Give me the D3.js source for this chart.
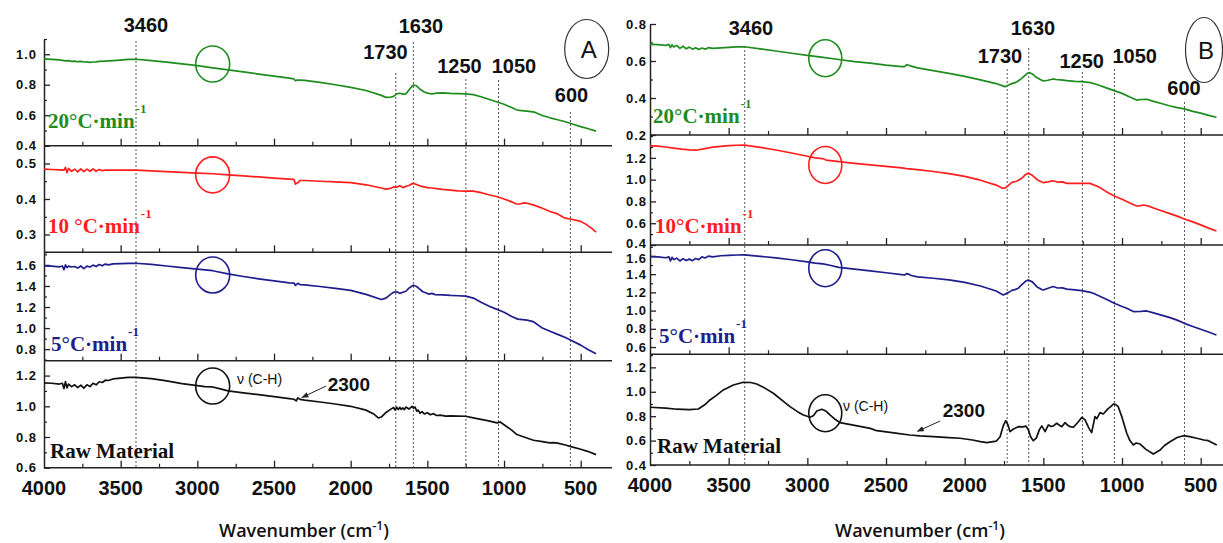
<!DOCTYPE html>
<html><head><meta charset="utf-8">
<script src="https://cdn.jsdelivr.net/npm/d3@7"></script>
<style>body{margin:0;background:#fff} svg{display:block}</style>
</head><body><svg id="c" width="1223" height="543"></svg>
<script>
// ---------------- DATA ----------------
const xTickValues = [4000,3500,3000,2500,2000,1500,1000,500];
const xMinorTickValues = [3750,3250,2750,2250,1750,1250,750];
const peakLabels = ["3460","1730","1630","1250","1050","600"];
const peakLinesA = [3400,1706,1591,1249,1036,567];
const peakLinesB = [3398,1730,1593,1252,1048,603];
const seriesNamesA = ["20°C·min","10 °C·min","5°C·min","Raw Material"];
const seriesNamesB = ["20°C·min","10°C·min","5°C·min","Raw Material"];
const yTicksA = [[0.4,0.6,0.8,1.0],[0.3,0.4,0.5],[0.8,1.0,1.2,1.4,1.6],[0.6,0.8,1.0,1.2]];
const yTicksB = [[0.2,0.4,0.6,0.8],[0.4,0.6,0.8,1.0,1.2],[0.6,0.8,1.0,1.2,1.4,1.6],[0.4,0.6,0.8,1.0,1.2]];

// Panel A
const aGreenWn = [4000,3950,3900,3880,3860,3840,3820,3800,3780,3760,3740,3720,3700,3680,3660,3640,3600,3550,3500,3450,3400,3300,3200,3100,3000,2900,2800,2700,2600,2500,2400,2370,2360,2350,2330,2300,2200,2100,2000,1900,1800,1770,1740,1720,1700,1680,1660,1640,1620,1600,1590,1570,1550,1520,1500,1470,1440,1400,1350,1300,1250,1200,1150,1100,1050,1000,950,920,900,850,800,750,700,650,600,550,500,450,400];
const aGreenAbs = [0.969,0.966,0.963,0.960,0.956,0.958,0.953,0.955,0.951,0.953,0.949,0.950,0.947,0.949,0.950,0.953,0.955,0.958,0.962,0.966,0.967,0.958,0.948,0.937,0.925,0.911,0.898,0.884,0.870,0.857,0.843,0.838,0.826,0.830,0.830,0.828,0.815,0.800,0.783,0.762,0.730,0.717,0.718,0.724,0.740,0.744,0.738,0.740,0.765,0.790,0.798,0.793,0.772,0.752,0.745,0.739,0.745,0.747,0.743,0.742,0.740,0.735,0.721,0.705,0.688,0.672,0.650,0.636,0.632,0.627,0.620,0.598,0.583,0.570,0.557,0.541,0.525,0.511,0.496];

const aRedWn = [4000,3950,3900,3870,3860,3850,3840,3820,3800,3780,3760,3740,3720,3700,3680,3660,3640,3620,3600,3500,3400,3300,3200,3100,3000,2900,2800,2700,2600,2500,2400,2370,2360,2345,2330,2300,2200,2100,2000,1900,1800,1770,1740,1720,1700,1680,1660,1640,1620,1600,1590,1570,1550,1530,1500,1470,1440,1400,1350,1300,1250,1200,1150,1100,1050,1000,950,920,900,870,850,800,750,700,650,610,600,560,500,470,430,400];
const aRedAbs = [0.484,0.483,0.482,0.481,0.489,0.474,0.486,0.478,0.484,0.476,0.485,0.477,0.484,0.478,0.485,0.478,0.483,0.480,0.481,0.481,0.481,0.479,0.477,0.475,0.473,0.471,0.468,0.465,0.462,0.459,0.456,0.455,0.442,0.446,0.452,0.452,0.450,0.448,0.446,0.440,0.431,0.428,0.430,0.434,0.433,0.437,0.432,0.436,0.438,0.443,0.444,0.441,0.437,0.435,0.432,0.431,0.429,0.427,0.425,0.423,0.422,0.422,0.418,0.412,0.407,0.400,0.392,0.386,0.386,0.389,0.388,0.382,0.374,0.365,0.358,0.348,0.346,0.343,0.337,0.330,0.318,0.307];

const aBlueWn = [4000,3950,3900,3880,3870,3860,3850,3840,3820,3800,3780,3760,3740,3720,3700,3680,3660,3640,3620,3600,3580,3550,3500,3450,3400,3300,3200,3100,3000,2900,2800,2700,2600,2500,2400,2370,2360,2345,2330,2300,2200,2100,2000,1900,1800,1770,1740,1720,1700,1680,1660,1640,1620,1600,1590,1570,1550,1530,1510,1490,1470,1450,1400,1350,1300,1250,1200,1150,1100,1050,1000,950,910,880,850,810,750,700,650,600,570,500,450,400];
const aBlueAbs = [1.590,1.588,1.582,1.590,1.555,1.600,1.575,1.588,1.580,1.585,1.570,1.590,1.565,1.588,1.580,1.598,1.585,1.604,1.592,1.608,1.600,1.610,1.612,1.615,1.616,1.605,1.590,1.575,1.560,1.545,1.515,1.490,1.468,1.448,1.430,1.428,1.405,1.425,1.413,1.410,1.395,1.378,1.358,1.320,1.271,1.285,1.320,1.340,1.345,1.330,1.340,1.350,1.380,1.400,1.407,1.395,1.370,1.345,1.335,1.322,1.330,1.318,1.315,1.310,1.307,1.303,1.285,1.245,1.210,1.180,1.150,1.110,1.085,1.080,1.075,1.062,1.000,0.970,0.940,0.910,0.890,0.838,0.795,0.755];

const aBlackWn = [4000,3950,3900,3880,3870,3860,3850,3840,3820,3800,3780,3760,3740,3720,3700,3680,3660,3640,3620,3600,3580,3550,3500,3450,3400,3300,3200,3100,3000,2950,2900,2850,2800,2700,2600,2500,2400,2370,2355,2345,2330,2300,2200,2100,2000,1900,1850,1820,1800,1770,1740,1720,1710,1700,1690,1680,1670,1660,1650,1640,1620,1600,1590,1580,1570,1560,1548,1535,1520,1500,1480,1460,1440,1417,1380,1350,1300,1250,1200,1150,1100,1045,1025,1000,950,916,870,808,750,700,677,650,600,569,500,450,400];
const aBlackAbs = [1.152,1.150,1.145,1.150,1.115,1.160,1.120,1.145,1.128,1.140,1.122,1.138,1.118,1.140,1.128,1.150,1.140,1.160,1.155,1.170,1.168,1.178,1.184,1.188,1.189,1.180,1.165,1.148,1.135,1.128,1.126,1.113,1.100,1.088,1.076,1.063,1.050,1.046,1.035,1.055,1.045,1.040,1.028,1.015,1.000,0.975,0.950,0.924,0.930,0.960,0.980,0.992,0.975,0.995,0.978,0.993,0.980,0.990,0.978,0.995,0.982,1.000,0.988,0.995,0.970,0.975,0.955,0.965,0.950,0.958,0.945,0.952,0.940,0.942,0.936,0.938,0.936,0.935,0.925,0.915,0.905,0.892,0.898,0.880,0.845,0.816,0.800,0.779,0.770,0.762,0.763,0.760,0.748,0.739,0.720,0.705,0.685];

// Panel B
const bGreenWn = [4000,3950,3900,3880,3870,3860,3850,3830,3810,3790,3770,3750,3730,3710,3690,3670,3650,3630,3600,3550,3500,3450,3400,3300,3200,3100,3000,2900,2800,2700,2600,2500,2400,2380,2370,2355,2340,2300,2200,2100,2000,1900,1800,1750,1744,1720,1700,1680,1660,1640,1620,1600,1590,1570,1550,1520,1500,1470,1440,1420,1390,1350,1300,1257,1200,1150,1100,1050,1000,950,907,880,843,800,750,700,650,604,550,500,450,400];
const bGreenAbs = [0.690,0.688,0.684,0.690,0.672,0.688,0.676,0.684,0.668,0.680,0.666,0.675,0.664,0.672,0.662,0.670,0.664,0.672,0.668,0.671,0.674,0.676,0.677,0.666,0.654,0.642,0.630,0.620,0.608,0.597,0.588,0.578,0.570,0.570,0.580,0.577,0.572,0.563,0.548,0.533,0.517,0.498,0.478,0.463,0.461,0.470,0.478,0.483,0.492,0.505,0.520,0.535,0.537,0.530,0.515,0.500,0.492,0.496,0.503,0.500,0.498,0.494,0.490,0.488,0.483,0.470,0.455,0.440,0.425,0.405,0.389,0.392,0.393,0.382,0.370,0.358,0.348,0.341,0.328,0.318,0.306,0.296];

const bRedWn = [4000,3950,3900,3850,3800,3750,3700,3650,3600,3550,3500,3450,3400,3300,3200,3100,3000,2950,2920,2900,2880,2800,2700,2600,2500,2400,2370,2300,2200,2100,2000,1900,1800,1760,1740,1720,1700,1670,1640,1610,1596,1570,1540,1510,1500,1470,1440,1410,1380,1350,1300,1250,1204,1150,1100,1049,1000,950,907,880,864,830,800,750,700,650,604,550,500,450,400];
const bRedAbs = [1.311,1.308,1.300,1.290,1.280,1.273,1.272,1.285,1.298,1.306,1.312,1.316,1.317,1.297,1.272,1.245,1.215,1.200,1.195,1.192,1.180,1.165,1.150,1.135,1.122,1.108,1.102,1.092,1.075,1.055,1.030,0.995,0.950,0.922,0.925,0.950,0.975,0.985,1.010,1.050,1.058,1.040,1.000,0.978,0.972,0.980,0.990,0.978,0.980,0.966,0.966,0.966,0.966,0.935,0.890,0.850,0.820,0.785,0.758,0.762,0.767,0.757,0.740,0.715,0.690,0.665,0.639,0.612,0.585,0.555,0.528];

const bBlueWn = [4000,3950,3900,3880,3870,3860,3850,3830,3810,3790,3770,3750,3730,3710,3690,3670,3650,3630,3600,3550,3500,3450,3400,3300,3200,3100,3000,2950,2900,2850,2800,2700,2600,2500,2400,2380,2370,2355,2340,2300,2200,2100,2000,1900,1800,1755,1720,1700,1680,1660,1640,1610,1596,1570,1540,1510,1500,1470,1437,1410,1380,1350,1300,1257,1200,1183,1100,1049,1000,970,928,880,843,800,750,700,650,604,550,500,450,400];
const bBlueAbs = [1.593,1.590,1.580,1.590,1.545,1.585,1.560,1.575,1.545,1.570,1.550,1.565,1.548,1.572,1.560,1.590,1.578,1.598,1.590,1.602,1.607,1.610,1.611,1.596,1.578,1.558,1.535,1.522,1.512,1.495,1.475,1.455,1.435,1.415,1.395,1.392,1.405,1.400,1.385,1.370,1.355,1.338,1.310,1.270,1.215,1.171,1.200,1.222,1.230,1.245,1.280,1.325,1.336,1.315,1.260,1.232,1.226,1.245,1.264,1.248,1.250,1.235,1.228,1.220,1.200,1.190,1.125,1.080,1.045,1.025,0.989,0.992,0.996,0.975,0.950,0.925,0.895,0.860,0.825,0.795,0.765,0.732];

const bBlackWn = [4000,3900,3830,3750,3693,3650,3619,3580,3534,3470,3407,3360,3322,3270,3216,3160,3110,3060,3025,2983,2960,2940,2908,2880,2856,2820,2792,2700,2600,2559,2450,2350,2284,2200,2100,2030,1950,1900,1860,1800,1775,1755,1739,1725,1712,1690,1659,1630,1610,1596,1580,1564,1545,1525,1510,1489,1468,1450,1436,1415,1400,1383,1362,1345,1330,1309,1280,1255,1235,1210,1193,1172,1160,1140,1119,1090,1070,1055,1040,1024,1000,970,950,928,910,885,850,801,760,730,695,650,610,570,525,480,451,398];
const bBlackAbs = [0.873,0.866,0.857,0.854,0.859,0.895,0.933,0.968,1.015,1.055,1.078,1.076,1.064,1.030,0.988,0.930,0.878,0.835,0.810,0.791,0.805,0.843,0.857,0.840,0.810,0.770,0.747,0.725,0.700,0.681,0.663,0.646,0.638,0.632,0.625,0.619,0.605,0.592,0.583,0.595,0.632,0.720,0.763,0.730,0.673,0.695,0.714,0.712,0.718,0.690,0.630,0.599,0.620,0.690,0.720,0.673,0.728,0.715,0.720,0.742,0.728,0.714,0.747,0.725,0.714,0.709,0.750,0.791,0.769,0.700,0.665,0.796,0.780,0.829,0.818,0.860,0.880,0.900,0.895,0.878,0.790,0.660,0.600,0.564,0.580,0.572,0.530,0.490,0.520,0.560,0.591,0.625,0.640,0.632,0.619,0.605,0.599,0.564];

// ---------------- LAYOUT ----------------
const colors = ["#1f8c1f","#ff1e1e","#1e1e8c","#111111"];
const panels = [
  { letter:"A", x4000:44, x500:580.7, xRight:612, yPad:7, tickBase:495, titleX:304,
    series:[[aGreenWn,aGreenAbs],[aRedWn,aRedAbs],[aBlueWn,aBlueAbs],[aBlackWn,aBlackAbs]],
    names:seriesNamesA, yTicks:yTicksA, peaks:peakLinesA,
    subs:[{top:39,bottom:145.7,domain:[0.4,1.1],minor:0.1},
          {top:145.7,bottom:252.3,domain:[0.25,0.55],minor:0.05},
          {top:252.3,bottom:360.7,domain:[0.69,1.72],minor:0.1},
          {top:360.7,bottom:467.7,domain:[0.6,1.297],minor:0.1}],
    nameAt:[[48,127.7],[48,233.3],[51,350.7],[50,457.7]],
    circleWn:2900, circleVals:[0.936,0.468,1.505,1.132], rx:17, ry:18,
    labelPos:[[146,32],[385.5,59.3],[421,33.3],[459.5,72.7],[514,72.7],[571.5,101.7]],
    lineTop:[41,73,42,79,80,112],
    ellipse:[586.7,49,22,29.5],
    chText:[237,384], arrow:{tail:[2160,1.132], tip:[2317,1.058], text:[327.7,391]} },
  { letter:"B", x4000:650, x500:1200.7, xRight:1223, yPad:3, tickBase:492, titleX:920,
    series:[[bGreenWn,bGreenAbs],[bRedWn,bRedAbs],[bBlueWn,bBlueAbs],[bBlackWn,bBlackAbs]],
    names:seriesNamesB, yTicks:yTicksB, peaks:peakLinesB,
    subs:[{top:24,bottom:135,domain:[0.2,0.8],minor:0.1},
          {top:135,bottom:245,domain:[0.4,1.41],minor:0.1},
          {top:245,bottom:354.3,domain:[0.52,1.72],minor:0.1},
          {top:354.3,bottom:465,domain:[0.4,1.307],minor:0.1}],
    nameAt:[[653,123.3],[655,233.3],[659,343.3],[657,453.3]],
    circleWn:2886, circleVals:[0.615,1.135,1.465,0.824], rx:16.5, ry:18.5,
    labelPos:[[751,35],[1000,62.7],[1033,35],[1081.7,68.3],[1134.7,62.7],[1184,95]],
    lineTop:[46,69,48,72,69,102],
    ellipse:[1204,50,18.5,32.5],
    chText:[843,410.7], arrow:{tail:[2157,0.76], tip:[2300,0.676], text:[942.7,416.7]} }
];

const svg = d3.select("#c");
const defs = svg.append("defs");
defs.append("marker").attr("id","ah").attr("viewBox","0 0 10 10").attr("refX",9).attr("refY",5)
  .attr("markerWidth",7).attr("markerHeight",7).attr("orient","auto")
  .append("path").attr("d","M0,1 L10,5 L0,9 Z").attr("fill","#222");

const tickFont = "'Liberation Sans', Arial, sans-serif";

panels.forEach(p => {
  const x = d3.scaleLinear().domain([4000,500]).range([p.x4000, p.x500]);
  const g = svg.append("g");
  const bottomAll = p.subs[3].bottom;
  const labelSel = [];

  p.peaks.forEach((wn,i) => {
    g.append("line").attr("x1",x(wn)).attr("x2",x(wn)).attr("y1",p.lineTop[i]).attr("y2",bottomAll)
      .attr("stroke","#555").attr("stroke-width",1).attr("stroke-dasharray","2,2");
  });

  p.subs.forEach((s,i) => {
    const y = d3.scaleLinear().domain(s.domain).range([s.bottom, s.top]);
    const minors = d3.range(Math.ceil(s.domain[0]/s.minor)*s.minor, s.domain[1]+1e-9, s.minor)
      .map(v=>+v.toFixed(3)).filter(v => !p.yTicks[i].some(t=>Math.abs(t-v)<1e-6));
    g.append("g").attr("transform",`translate(${p.x4000},0)`)
      .call(d3.axisLeft(y).tickValues(minors).tickSize(-3).tickFormat(""))
      .call(a=>{a.select(".domain").remove(); a.selectAll("line").attr("stroke","#222").attr("stroke-width",1.2);});
    const ya = g.append("g").attr("transform",`translate(${p.x4000},0)`)
      .call(d3.axisLeft(y).tickValues(p.yTicks[i]).tickSize(-6).tickSizeOuter(0).tickPadding(p.yPad).tickFormat(d3.format(".1f")))
      .call(a=>{
        a.select(".domain").attr("stroke","#222").attr("stroke-width",1.5);
        a.selectAll("line").attr("stroke","#222").attr("stroke-width",1.3);
        a.selectAll("text").attr("font-family",tickFont).attr("font-weight","bold").attr("font-size",13)
          .attr("letter-spacing","1px").attr("fill","#111");
      });
    labelSel.push({sel: ya.selectAll(".tick"), y, ticks: p.yTicks[i]});
    g.append("line").attr("x1",p.x4000).attr("x2",p.xRight).attr("y1",s.bottom).attr("y2",s.bottom)
      .attr("stroke","#222").attr("stroke-width",1.5);
    g.append("g").attr("transform",`translate(0,${s.bottom})`)
      .call(d3.axisTop(x).tickValues(xTickValues.slice(1)).tickSize(7).tickFormat(""))
      .call(a=>{a.select(".domain").remove(); a.selectAll("line").attr("stroke","#222").attr("stroke-width",1.3);});
    g.append("g").attr("transform",`translate(0,${s.bottom})`)
      .call(d3.axisTop(x).tickValues(xMinorTickValues).tickSize(4).tickFormat(""))
      .call(a=>{a.select(".domain").remove(); a.selectAll("line").attr("stroke","#222").attr("stroke-width",1.2);});

    const [wn, vals] = p.series[i];
    const line = d3.line().x(d=>x(d[0])).y(d=>y(d[1]));
    g.append("path").datum(d3.zip(wn, vals)).attr("d", line)
      .attr("fill","none").attr("stroke",colors[i]).attr("stroke-width",1.7).attr("stroke-linejoin","round");

    g.append("ellipse").attr("cx",x(p.circleWn)).attr("cy",y(p.circleVals[i])).attr("rx",p.rx).attr("ry",p.ry)
      .attr("fill","none").attr("stroke",colors[i]).attr("stroke-width",1.6);

    const t = g.append("text").attr("x",p.nameAt[i][0]).attr("y",p.nameAt[i][1])
      .attr("font-family","'Liberation Serif','Times New Roman',serif").attr("font-weight","bold")
      .attr("font-size",21).attr("fill",colors[i]);
    t.append("tspan").text(p.names[i]);
    if (i < 3) t.append("tspan").attr("dy",-15).attr("dx",1).attr("font-size",13).text("-1");

    if (i === 3) {
      g.append("text").attr("x",p.chText[0]).attr("y",p.chText[1]).attr("font-family",tickFont)
        .attr("font-size",14).attr("fill","#111").text("ν (C-H)");
      g.append("line").attr("x1",x(p.arrow.tail[0])).attr("y1",y(p.arrow.tail[1]))
        .attr("x2",x(p.arrow.tip[0])).attr("y2",y(p.arrow.tip[1]))
        .attr("stroke","#222").attr("stroke-width",1).attr("marker-end","url(#ah)");
      g.append("text").attr("x",p.arrow.text[0]).attr("y",p.arrow.text[1]).attr("font-family",tickFont)
        .attr("font-weight","bold").attr("font-size",19).attr("fill","#111").text("2300");
    }
  });

  // nudge crowded tick labels at subplot joins apart
  for (let i = 0; i < labelSel.length - 1; i++) {
    const lo = labelSel[i], hi = labelSel[i+1];
    const yLo = lo.y(d3.min(lo.ticks)), yHi = hi.y(d3.max(hi.ticks));
    const gap = yHi - yLo, need = 15;
    if (gap < need) {
      const shift = (need - gap) / 2;
      lo.sel.filter(d => d === d3.min(lo.ticks)).select("text").attr("transform", `translate(0,${-shift})`);
      hi.sel.filter(d => d === d3.max(hi.ticks)).select("text").attr("transform", `translate(0,${shift})`);
    }
  }

  xTickValues.forEach(v => {
    g.append("text").attr("x",x(v)).attr("y",p.tickBase).attr("text-anchor","middle")
      .attr("font-family",tickFont).attr("font-weight","bold").attr("font-size",20).attr("fill","#111").text(v);
  });
  const tt = g.append("text").attr("x",p.titleX).attr("y",537).attr("text-anchor","middle")
    .attr("font-family","'Open Sans', sans-serif").attr("font-weight",600).attr("font-size",18).attr("fill","#111");
  tt.append("tspan").text("Wavenumber (cm");
  tt.append("tspan").attr("dy",-7).attr("font-size",12).text("-1");
  tt.append("tspan").attr("dy",7).text(")");

  peakLabels.forEach((lab,i) => {
    g.append("text").attr("x",p.labelPos[i][0]).attr("y",p.labelPos[i][1]).attr("text-anchor","middle")
      .attr("font-family",tickFont).attr("font-weight","bold").attr("font-size",20).attr("fill","#111").text(lab);
  });

  const e = p.ellipse;
  g.append("ellipse").attr("cx",e[0]).attr("cy",e[1]).attr("rx",e[2]).attr("ry",e[3])
    .attr("fill","none").attr("stroke","#333").attr("stroke-width",1.2);
  g.append("text").attr("x",e[0]+2).attr("y",e[1]+9).attr("text-anchor","middle")
    .attr("font-family",tickFont).attr("font-size",24).attr("fill","#111").text(p.letter);
});
</script></body></html>
